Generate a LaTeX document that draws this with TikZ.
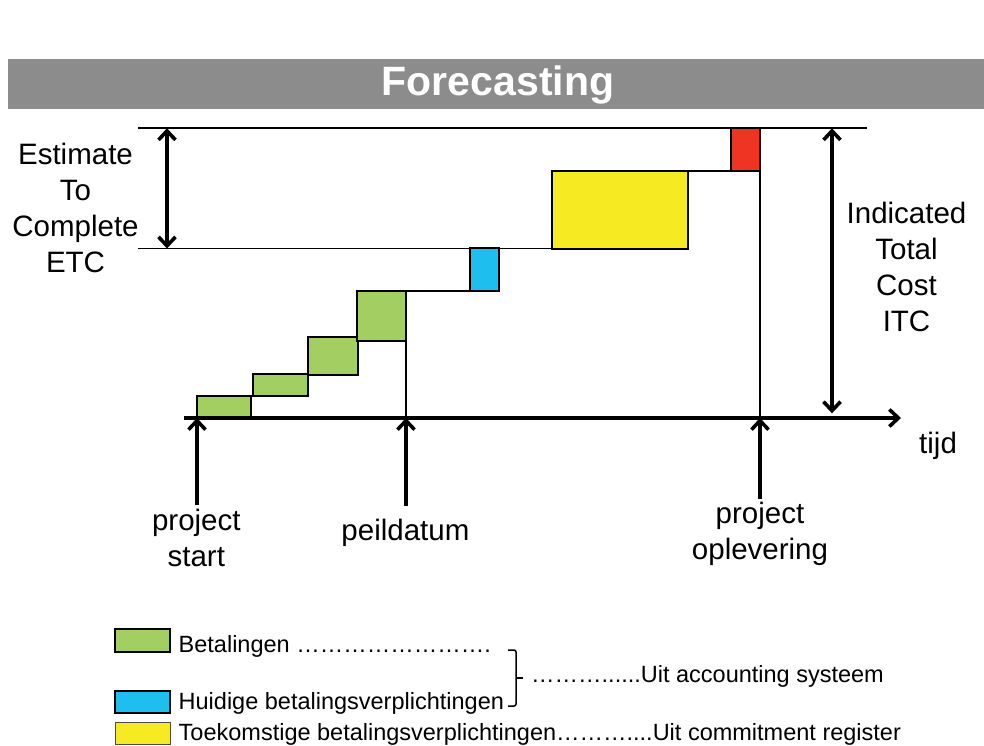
\documentclass[tikz,border=0pt]{standalone}
\usepackage{fontspec}
\setmainfont{Liberation Sans}
\usetikzlibrary{arrows.meta}
\definecolor{cgreen}{RGB}{163,206,98}
\definecolor{cblue}{RGB}{30,190,238}
\definecolor{cyellow}{RGB}{246,234,34}
\definecolor{cred}{RGB}{238,53,36}
\definecolor{cgray}{RGB}{140,140,140}
\begin{document}
\begin{tikzpicture}[x=1pt,y=-1pt,
  bar/.style={draw=black, line width=2pt, inner sep=0pt, outer sep=0pt, anchor=south west},
  thinline/.style={line width=1.8pt},
  bigarrow/.style={line width=3.6pt, -{Straight Barb[length=9pt,width=17pt]}},
  dblarrow/.style={line width=3.6pt, {Straight Barb[length=9pt,width=17pt]}-{Straight Barb[length=9pt,width=17pt]}},
  lbl/.style={font=\fontsize{29.5}{36}\selectfont, inner sep=0pt, align=center},
  leg/.style={font=\fontsize{23.5}{28}\selectfont, inner sep=0pt, anchor=base west},
]
\useasboundingbox (0,0) rectangle (984,745);
\fill[white] (0,0) rectangle (984,745);
% title band
\node[fill=cgray, minimum width=976pt, minimum height=50pt, anchor=north west, inner sep=0pt] (band) at (8,59) {};
\node[font=\fontsize{41}{48}\selectfont\bfseries, text=white, anchor=base, inner sep=0pt] (title) at (498,95.7) {Forecasting};

% bars
\node[bar, fill=cgreen, minimum width=54pt, minimum height=22pt] (g1) at (197,418) {};
\node[bar, fill=cgreen, minimum width=55pt, minimum height=22pt] (g2) at (252.5,396) {};
\node[bar, fill=cgreen, minimum width=50pt, minimum height=38pt] (g3) at (307.5,375) {};
\node[bar, fill=cgreen, minimum width=48.7pt, minimum height=50pt] (g4) at (357.3,341) {};
\node[bar, fill=cblue, minimum width=29.3pt, minimum height=43pt] (bl) at (470,291) {};
\node[bar, fill=cyellow, minimum width=136.3pt, minimum height=77.5pt] (ye) at (551.7,248.5) {};
\node[bar, fill=cred, minimum width=29pt, minimum height=42.7pt] (re) at (731,171) {};

% coordinates
\coordinate (topL) at (138,128.3);
\coordinate (topR) at (866.7,128.3);
\coordinate (etcL) at (138,248.5);
\coordinate (pd) at (406,418);
\coordinate (po) at (760,418);
\coordinate (ax0) at (184,418);
\coordinate (ax1) at (901,418);
\coordinate (ps0) at (197,505);
\coordinate (pd0) at (406,506);
\coordinate (po0) at (760,499);
\coordinate (etcT) at (167,128.3);
\coordinate (etcB) at (167,248.5);
\coordinate (itcT) at (832,128.3);
\coordinate (itcB) at (832,413.3);

% thin lines
\draw[thinline] (topL) -- (topR);
\draw[thinline] (etcL) -- (ye.south west);
\draw[thinline] (g4.north east) -- (bl.south west);
\draw[thinline] (ye.north east) -- (re.south west);
\draw[thinline] (g4.south east) -- (pd);
\draw[thinline] (re.south east) -- (po);

% axis and arrows
\draw[bigarrow] (ax0) -- (ax1);
\draw[bigarrow] (ps0) -- (g1.south west);
\draw[bigarrow] (pd0) -- (pd);
\draw[bigarrow] (po0) -- (po);
\draw[dblarrow] (etcT) -- (etcB);
\draw[dblarrow] (itcT) -- (itcB);

% labels
\node[lbl, anchor=north] (etc) at (75.5,143.2) {Estimate\\To\\Complete\\ETC};
\node[lbl, anchor=north] (itc) at (906.5,202.4) {Indicated\\Total\\Cost\\ITC};
\node[lbl, anchor=north] (pstart) at (196.3,508.9) {project\\start};
\node[lbl, anchor=base] (peil) at (405.4,540) {peildatum};
\node[lbl, anchor=north] (poplev) at (760,501.6) {project\\oplevering};
\node[lbl, anchor=base west] (tijd) at (919,453) {tijd};

% legend
\node[bar, fill=cgreen, minimum width=55pt, minimum height=23pt, anchor=north west] (lg) at (115,628.5) {};
\node[bar, fill=cblue, minimum width=55pt, minimum height=22.5pt, anchor=north west] (lb) at (115,690.5) {};
\node[draw=black!70, line width=1pt, fill=cyellow, inner sep=0pt, minimum width=55pt, minimum height=22.5pt, anchor=north west] (ly) at (115,721.5) {};

\node[leg] (t1) at (178.5,652) {Betalingen {…}{…}{…}{…}{…}{…}{…}{…}.};
\node[leg] (t2) at (178.5,709) {Huidige betalingsverplichtingen};
\node[leg] (t3) at (178.5,740) {Toekomstige betalingsverplichtingen{…}{…}{…}....Uit commitment register};
\node[leg] (t4) at (531,682) {{…}{…}{…}......Uit accounting systeem};

% brace
\coordinate (brT) at (508,650);
\coordinate (brB) at (508,706);
\coordinate (brM) at (516,678);
\coordinate (brTip) at (523,678);
\draw[line width=1.5pt, rounded corners=2pt] (brT) -- (516,650) -- (516,706) -- (brB);
\draw[line width=1.5pt] (brM) -- (brTip);
\end{tikzpicture}
\end{document}
